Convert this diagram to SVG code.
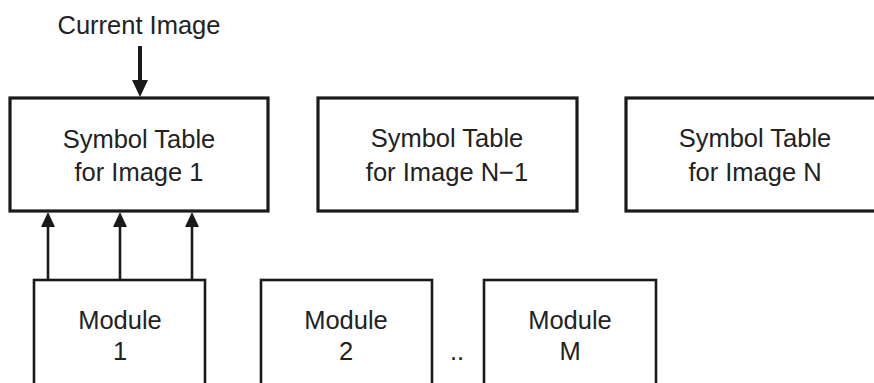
<svg xmlns="http://www.w3.org/2000/svg" width="874" height="383" viewBox="0 0 874 383">
<style>
.box{fill:#fff;stroke:#1a1a1a;stroke-width:3.2}
.mod{fill:#fff;stroke:#1a1a1a;stroke-width:2.6}
.t{font-family:"Liberation Sans",Arial,Helvetica,sans-serif;font-size:25.5px;fill:#222;text-anchor:middle}
.c{stroke:#1a1a1a;fill:none}
.h{fill:#1a1a1a}
</style>
<text class="t" x="139" y="34">Current Image</text>
<g id="st1"><rect class="box" x="10" y="98" width="258" height="113"/><text class="t" x="139" y="148">Symbol Table</text><text class="t" x="139" y="181">for Image 1</text></g>
<g id="stN1"><rect class="box" x="318" y="98" width="259" height="113"/><text class="t" x="447" y="147">Symbol Table</text><text class="t" x="447" y="181">for Image N−1</text></g>
<g id="stN"><rect class="box" x="626" y="98" width="262" height="113"/><text class="t" x="755" y="147">Symbol Table</text><text class="t" x="755" y="181">for Image N</text></g>
<g id="m1"><rect class="mod" x="34" y="280" width="171" height="120"/><text class="t" x="120" y="329">Module</text><text class="t" x="120" y="360">1</text></g>
<g id="m2"><rect class="mod" x="261" y="280" width="171" height="120"/><text class="t" x="346" y="329">Module</text><text class="t" x="346" y="360">2</text></g>
<text class="t" x="457" y="360">..</text>
<g id="mM"><rect class="mod" x="484" y="280" width="172" height="120"/><text class="t" x="570" y="329">Module</text><text class="t" x="570" y="360">M</text></g>
<g id="connectors">
<line class="c" x1="140" y1="46" x2="140" y2="82" stroke-width="4"/>
<path class="h" d="M132,80 L148,80 L140,97 Z"/>
<line class="c" x1="48" y1="280" x2="48" y2="225" stroke-width="2.6"/>
<path class="h" d="M48,212 L55,227 L41,227 Z"/>
<line class="c" x1="120" y1="280" x2="120" y2="225" stroke-width="2.6"/>
<path class="h" d="M120,212 L127,227 L113,227 Z"/>
<line class="c" x1="192" y1="280" x2="192" y2="225" stroke-width="2.6"/>
<path class="h" d="M192,212 L199,227 L185,227 Z"/>
</g>
</svg>
